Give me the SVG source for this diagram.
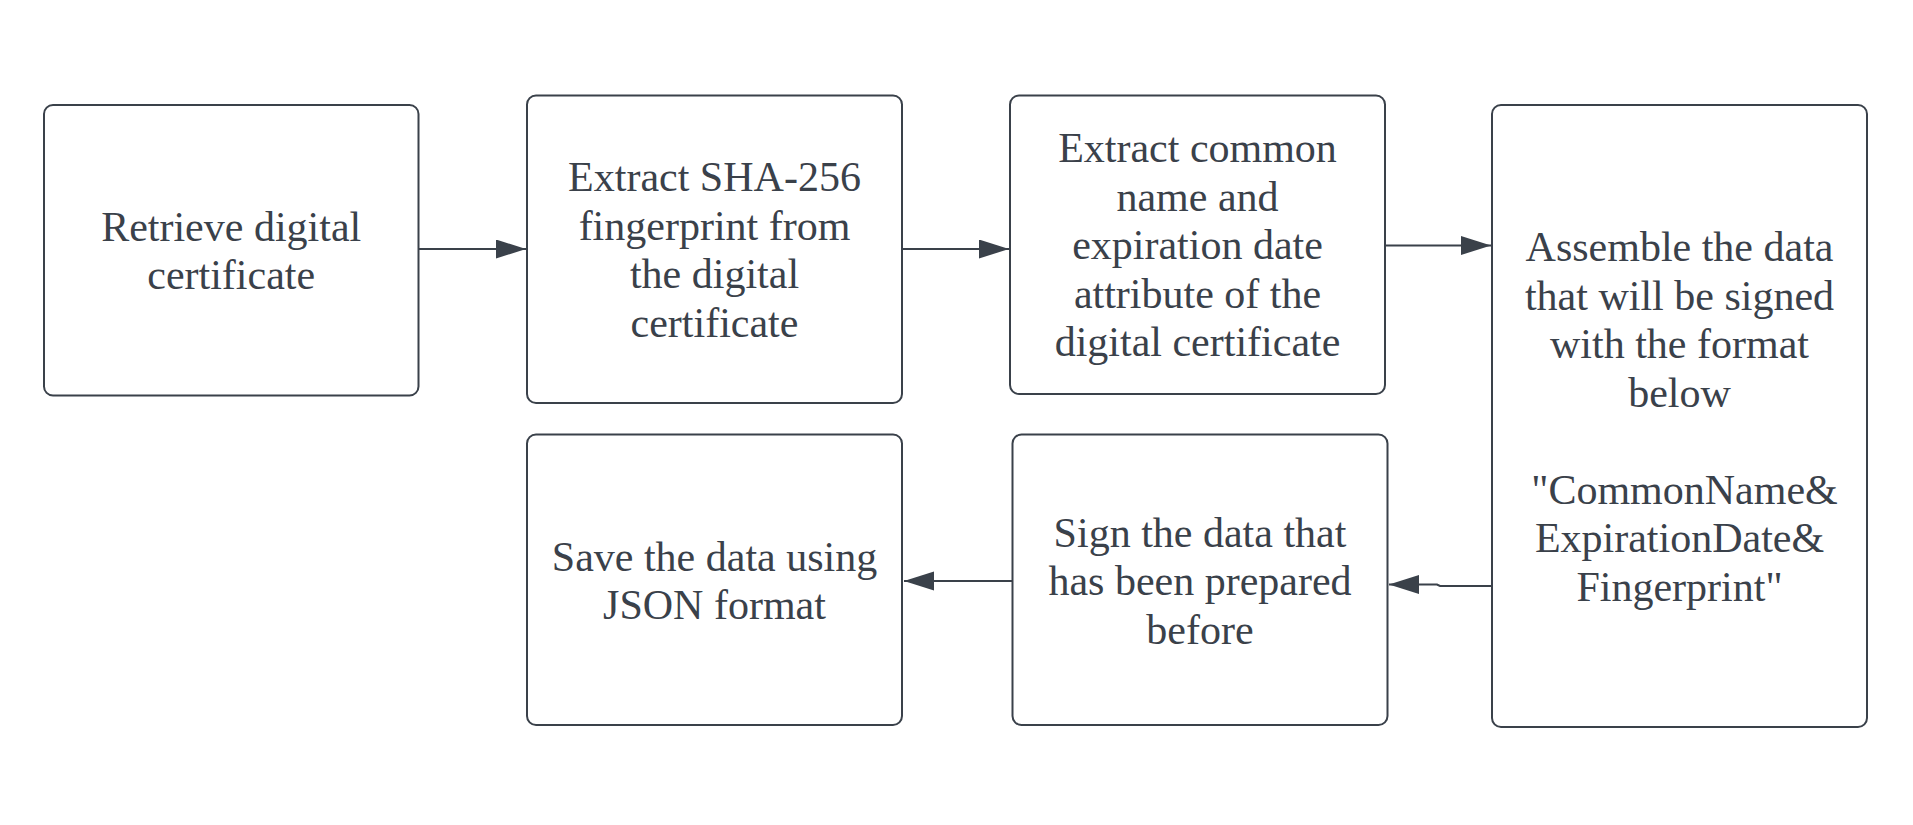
<svg xmlns="http://www.w3.org/2000/svg" width="1913" height="825" viewBox="0 0 1913 825">
<style>
.box{fill:#ffffff;stroke:#3a414a;stroke-width:2}
.lbl{font-family:"Liberation Serif","Times New Roman",serif;font-size:42px;fill:#3a414a;text-anchor:middle}
.conn{fill:none;stroke:#3a414a;stroke-width:2}
</style>
<defs>
<marker id="arr" markerUnits="userSpaceOnUse" markerWidth="31" markerHeight="20" refX="30" refY="9.5" orient="auto">
<path d="M0,0 L30,9.5 L0,19 Z" fill="#3a414a"/>
</marker>
</defs>
<rect width="1913" height="825" fill="#ffffff"/>
<g id="connectors">
<path class="conn" d="M419,249 L526,249" marker-end="url(#arr)"/>
<path class="conn" d="M902,249 L1009,249" marker-end="url(#arr)"/>
<path class="conn" d="M1385,245.5 L1491,245.5" marker-end="url(#arr)"/>
<path class="conn" d="M1492,586 L1440,586 L1437,584.5 L1389,584.5" marker-end="url(#arr)"/>
<path class="conn" d="M1012.5,581 L904,581" marker-end="url(#arr)"/>
</g>
<g id="n1">
<rect class="box" x="44" y="105" width="374.5" height="290.5" rx="9"/>
<text class="lbl" x="231.2"><tspan x="231.2" y="240.5">Retrieve digital</tspan><tspan x="231.2" y="289">certificate</tspan></text>
</g>
<g id="n2">
<rect class="box" x="527" y="95.5" width="375" height="307.5" rx="9"/>
<text class="lbl"><tspan x="714.5" y="191">Extract SHA-256</tspan><tspan x="714.5" y="239.5">fingerprint from</tspan><tspan x="714.5" y="288">the digital</tspan><tspan x="714.5" y="336.5">certificate</tspan></text>
</g>
<g id="n3">
<rect class="box" x="1010" y="95.5" width="375" height="298.5" rx="9"/>
<text class="lbl"><tspan x="1197.5" y="162">Extract common</tspan><tspan x="1197.5" y="210.5">name and</tspan><tspan x="1197.5" y="259">expiration date</tspan><tspan x="1197.5" y="307.5">attribute of the</tspan><tspan x="1197.5" y="356">digital certificate</tspan></text>
</g>
<g id="n4">
<rect class="box" x="1492" y="105" width="375" height="622" rx="9"/>
<text class="lbl"><tspan x="1679.5" y="261">Assemble the data</tspan><tspan x="1679.5" y="309.5">that will be signed</tspan><tspan x="1679.5" y="358">with the format</tspan><tspan x="1679.5" y="406.5">below</tspan><tspan x="1684.5" y="503.5">"CommonName&amp;</tspan><tspan x="1679.5" y="552">ExpirationDate&amp;</tspan><tspan x="1679.5" y="600.5">Fingerprint"</tspan></text>
</g>
<g id="n5">
<rect class="box" x="1012.5" y="434.5" width="375" height="290.5" rx="9"/>
<text class="lbl"><tspan x="1200" y="546.5">Sign the data that</tspan><tspan x="1200" y="595">has been prepared</tspan><tspan x="1200" y="643.5">before</tspan></text>
</g>
<g id="n6">
<rect class="box" x="527" y="434.5" width="375" height="290.5" rx="9"/>
<text class="lbl"><tspan x="714.5" y="570.5">Save the data using</tspan><tspan x="714.5" y="619">JSON format</tspan></text>
</g>
</svg>
